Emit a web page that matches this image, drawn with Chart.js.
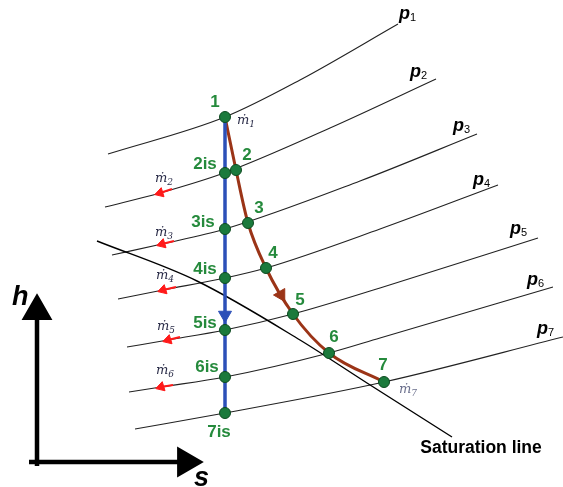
<!DOCTYPE html>
<html>
<head>
<meta charset="utf-8">
<script src="https://cdn.jsdelivr.net/npm/chart.js@4"></script>
<style>
  html, body { margin: 0; padding: 0; background: #fff; overflow: hidden; }
  #wrap { width: 563px; height: 487px; position: relative; }
</style>
</head>
<body>
<div id="wrap"><canvas id="hs"></canvas></div>
<script>
// h-s diagram of a turbine expansion with extractions
// coordinates are in the diagram's own (s, h) units, h axis drawn reversed

// isobars p1..p7 (s, h points)
const isobarP1 = [[108,154],[225,117],[300,80],[398,24]];
const isobarP2 = [[105,207],[160,193],[224,173],[330,128],[436,79]];
const isobarP3 = [[112,255],[162,244],[225,229],[360,181],[477,134]];
const isobarP4 = [[118,299],[163,290],[225,278],[266,268],[380,229],[498,185]];
const isobarP5 = [[127,347],[168,340],[225,330],[293,314],[380,288],[538,238]];
const isobarP6 = [[129,392],[161,387],[225,377],[329,353],[380,338],[553,287]];
const isobarP7 = [[135,429],[225,413],[384,382],[563,337]];
const isobars = [isobarP1, isobarP2, isobarP3, isobarP4, isobarP5, isobarP6, isobarP7];

const saturationLine = [[97,241],[197,281],[300,340],[367,383],[452,437]];

// real expansion states 1..7 and isentropic states 2is..7is
const statesReal = [[225,117],[236,170],[248,223],[266,268],[293,314],[329,353],[384,382]];
const statesIsen = [[225,117],[225,173],[225,229],[225,278],[225,330],[225,377],[225,413]];

// direction markers
const isenArrow = [[225,315]];
const realArrow = [[281,295]];
const extractTip = [[160,193],[162,244],[163,290],[168,340],[161,387]];
const extractTail = [[172,189],[174,241],[176,287],[180,337],[173,385]];

// axes
const hAxis = [[37,466],[37,311]];
const sAxis = [[29,462],[186,462]];

// labels
const stateLabels = ['1','2is','2','3is','3','4is','4','5is','5','6is','6','7is','7'];
const stateLabelPos = [[215,102],[205,164],[247,155],[203,222],[259,208],[205,269],[273,253],
                       [205,323],[300,300],[207,367],[334,337],[219,432],[383,365]];
const pressureLabels = ['1','2','3','4','5','6','7'];
const pressureLabelPos = [[399,19],[410,77],[453,131],[473,185],[510,234],[527,285],[537,334]];
const flowLabels = ['1','2','3','4','5','6','7'];
const flowLabelPos = [[237,124],[155,182],[155,236],[156,279],[157,330],[156,374],[399,393]];

const xy = a => a.map(p => ({ x: p[0], y: p[1] }));

const datasets = [];
isobars.forEach((pts, i) => datasets.push({
  label: 'p' + (i + 1), data: xy(pts), showLine: true, borderColor: '#222',
  borderWidth: 1.1, pointRadius: 0, cubicInterpolationMode: 'monotone', order: 6
}));
datasets.push({ label: 'saturation', data: xy(saturationLine), showLine: true, borderColor: '#000',
  borderWidth: 1.4, pointRadius: 0, cubicInterpolationMode: 'monotone', order: 5 });
datasets.push({ label: 'isentropic', data: xy(statesIsen), showLine: true, borderColor: '#2c50b8',
  borderWidth: 3.5, pointRadius: 0, tension: 0, order: 3 });
datasets.push({ label: 'real', data: xy(statesReal), showLine: true, borderColor: '#9b3417',
  borderWidth: 3, pointRadius: 0, cubicInterpolationMode: 'monotone', order: 3 });
datasets.push({ label: 'isenArrow', data: xy(isenArrow), showLine: false, pointStyle: 'triangle',
  rotation: 180, pointRadius: 7.5, backgroundColor: '#2c50b8', borderColor: '#2c50b8', order: 2 });
datasets.push({ label: 'realArrow', data: xy(realArrow), showLine: false, pointStyle: 'triangle',
  rotation: 150, pointRadius: 7.5, backgroundColor: '#9b3417', borderColor: '#9b3417', order: 2 });
extractTip.forEach((t, i) => datasets.push({
  label: 'shaft' + i, data: xy([t, extractTail[i]]), showLine: true, borderColor: '#ff1a1a',
  borderWidth: 2, pointRadius: 0, order: 2
}));
datasets.push({ label: 'extract', data: xy(extractTip), showLine: false, pointStyle: 'triangle',
  rotation: 253, pointRadius: 5.5, backgroundColor: '#ff1a1a', borderColor: '#ff1a1a', order: 1 });
datasets.push({ label: 'hAxis', data: xy(hAxis), showLine: true, borderColor: '#000', borderWidth: 4.5,
  pointStyle: 'triangle', rotation: 0, pointRadius: [0, 13.3], backgroundColor: '#000', order: 2 });
datasets.push({ label: 'sAxis', data: xy(sAxis), showLine: true, borderColor: '#000', borderWidth: 4.5,
  pointStyle: 'triangle', rotation: 90, pointRadius: [0, 13.3], backgroundColor: '#000', order: 2 });
datasets.push({ label: 'statesIsen', data: xy(statesIsen), showLine: false, pointRadius: 5.5,
  backgroundColor: '#1b7a3c', borderColor: '#0c4a1f', borderWidth: 1, order: 0 });
datasets.push({ label: 'statesReal', data: xy(statesReal.slice(1)), showLine: false, pointRadius: 5.5,
  backgroundColor: '#1b7a3c', borderColor: '#0c4a1f', borderWidth: 1, order: 0 });

const labelPlugin = {
  id: 'labels',
  afterDatasetsDraw(chart) {
    const { ctx, scales: { x, y } } = chart;
    const px = v => x.getPixelForValue(v);
    const py = v => y.getPixelForValue(v);
    ctx.save();

    // state numbers
    ctx.fillStyle = '#258a3c';
    ctx.font = 'bold 17px "Liberation Sans", Arial, sans-serif';
    ctx.textAlign = 'center';
    ctx.textBaseline = 'middle';
    stateLabels.forEach((t, i) => ctx.fillText(t, px(stateLabelPos[i][0]), py(stateLabelPos[i][1])));

    // pressure labels
    ctx.textAlign = 'left';
    ctx.textBaseline = 'alphabetic';
    ctx.fillStyle = '#000';
    pressureLabels.forEach((t, i) => {
      const bx = px(pressureLabelPos[i][0]), by = py(pressureLabelPos[i][1]);
      ctx.font = 'italic bold 18px "Liberation Sans", Arial, sans-serif';
      ctx.fillText('p', bx, by);
      const w = ctx.measureText('p').width;
      ctx.font = '11px "Liberation Sans", Arial, sans-serif';
      ctx.fillText(t, bx + w, by + 2);
    });

    // mass flow labels
    flowLabels.forEach((t, i) => {
      const bx = px(flowLabelPos[i][0]), by = py(flowLabelPos[i][1]);
      ctx.fillStyle = i === 6 ? '#6a6f8c' : '#2a2c48';
      ctx.font = 'italic 13px "DejaVu Serif", "Liberation Serif", serif';
      ctx.fillText('\u1E41', bx, by);
      const w = ctx.measureText('\u1E41').width;
      ctx.font = 'italic 9px "DejaVu Serif", "Liberation Serif", serif';
      ctx.fillText(t, bx + w, by + 3);
    });

    ctx.fillStyle = '#000';
    ctx.font = 'bold 17.5px "Liberation Sans", Arial, sans-serif';
    ctx.textAlign = 'center';
    ctx.textBaseline = 'middle';
    ctx.fillText('Saturation line', px(481), py(448));

    ctx.font = 'italic bold 27px "Liberation Sans", Arial, sans-serif';
    ctx.textAlign = 'left';
    ctx.textBaseline = 'alphabetic';
    ctx.fillText('h', px(12), py(305));
    ctx.fillText('s', px(194), py(486));
    ctx.restore();
  }
};

new Chart(document.getElementById('hs'), {
  type: 'scatter',
  data: { datasets },
  options: {
    responsive: true,
    maintainAspectRatio: false,
    animation: false,
    layout: { padding: 0, autoPadding: false },
    scales: {
      x: { type: 'linear', min: 0, max: 563, display: false },
      y: { type: 'linear', min: 0, max: 487, reverse: true, display: false }
    },
    plugins: { legend: { display: false }, tooltip: { enabled: false } }
  },
  plugins: [labelPlugin]
});
</script>
</body>
</html>
